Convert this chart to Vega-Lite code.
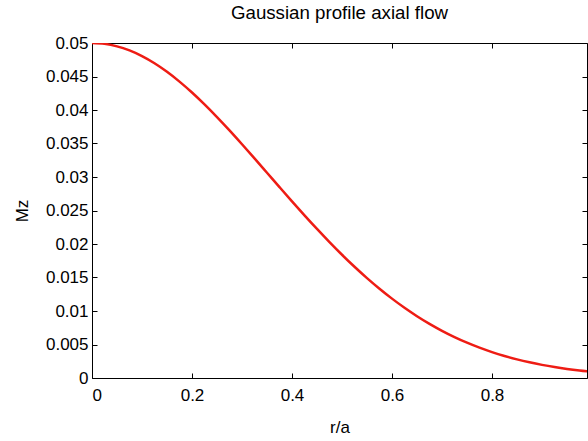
{
  "$schema": "https://vega.github.io/schema/vega-lite/v6.json",
  "width": 495,
  "height": 335,
  "autosize": "none",
  "padding": {"left": 92, "top": 43, "right": 1, "bottom": 63},
  "background": "white",
  "title": {"text": "Gaussian profile axial flow", "font": "Liberation Sans", "fontSize": 18.7, "fontWeight": "normal", "color": "black", "offset": 11},
  "config": {
    "view": {"stroke": "black", "strokeWidth": 1},
    "axis": {"grid": false, "domain": false, "tickColor": "black", "tickSize": -5, "labelFont": "Liberation Sans", "labelFontSize": 17, "labelColor": "black", "titleFont": "Liberation Sans", "titleFontSize": 17, "titleFontWeight": "normal", "titleColor": "black"}
  },
  "data": {"values": [
    {"r": 0, "M": 0.05},
    {"r": 0.025, "M": 0.049875},
    {"r": 0.05, "M": 0.049502},
    {"r": 0.075, "M": 0.048887},
    {"r": 0.1, "M": 0.048039},
    {"r": 0.125, "M": 0.046971},
    {"r": 0.15, "M": 0.045696},
    {"r": 0.175, "M": 0.044236},
    {"r": 0.2, "M": 0.042607},
    {"r": 0.225, "M": 0.040834},
    {"r": 0.25, "M": 0.03894},
    {"r": 0.275, "M": 0.036949},
    {"r": 0.3, "M": 0.034884},
    {"r": 0.325, "M": 0.03277},
    {"r": 0.35, "M": 0.030631},
    {"r": 0.375, "M": 0.028489},
    {"r": 0.4, "M": 0.026364},
    {"r": 0.425, "M": 0.024277},
    {"r": 0.45, "M": 0.022243},
    {"r": 0.475, "M": 0.02028},
    {"r": 0.5, "M": 0.018394},
    {"r": 0.525, "M": 0.016603},
    {"r": 0.55, "M": 0.01491},
    {"r": 0.575, "M": 0.013324},
    {"r": 0.6, "M": 0.011847},
    {"r": 0.625, "M": 0.01048},
    {"r": 0.65, "M": 0.009226},
    {"r": 0.675, "M": 0.008081},
    {"r": 0.7, "M": 0.007043},
    {"r": 0.725, "M": 0.006107},
    {"r": 0.75, "M": 0.00527},
    {"r": 0.775, "M": 0.004524},
    {"r": 0.8, "M": 0.003865},
    {"r": 0.825, "M": 0.003286},
    {"r": 0.85, "M": 0.002779},
    {"r": 0.875, "M": 0.002339},
    {"r": 0.9, "M": 0.001958},
    {"r": 0.925, "M": 0.001631},
    {"r": 0.95, "M": 0.001352},
    {"r": 0.975, "M": 0.001116},
    {"r": 1.0, "M": 0.000916}
  ]},
  "layer": [
    {
      "mark": {"type": "line", "color": "#ee1c14", "strokeWidth": 2.5, "clip": true, "interpolate": "monotone"},
      "encoding": {
        "x": {"field": "r", "type": "quantitative", "scale": {"domain": [0, 0.99], "nice": false, "zero": false}, "axis": {"title": "r/a", "values": [0, 0.2, 0.4, 0.6, 0.8], "format": "~g", "labelPadding": 14, "titlePadding": 16}},
        "y": {"field": "M", "type": "quantitative", "scale": {"domain": [0, 0.05], "nice": false}, "axis": {"title": "Mz", "values": [0, 0.005, 0.01, 0.015, 0.02, 0.025, 0.03, 0.035, 0.04, 0.045, 0.05], "format": "~g", "labelPadding": 9, "titlePadding": 14}}
      }
    },
    {
      "mark": {"type": "point", "opacity": 0},
      "encoding": {
        "x": {"field": "r", "type": "quantitative", "axis": {"orient": "top", "labels": false, "title": null, "values": [0, 0.2, 0.4, 0.6, 0.8]}},
        "y": {"field": "M", "type": "quantitative", "axis": {"orient": "right", "labels": false, "title": null, "values": [0, 0.005, 0.01, 0.015, 0.02, 0.025, 0.03, 0.035, 0.04, 0.045, 0.05]}}
      }
    }
  ],
  "resolve": {"axis": {"x": "independent", "y": "independent"}}
}
